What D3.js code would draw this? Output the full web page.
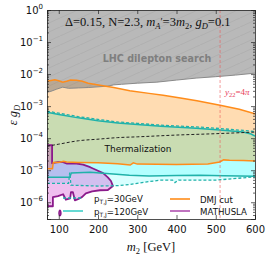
<!DOCTYPE html>
<html><head><meta charset="utf-8">
<script src="https://cdn.jsdelivr.net/npm/d3@7"></script>
<style>body{margin:0;background:#fff}svg{display:block}</style>
</head><body>
<svg id="c" width="266" height="259"></svg>
<script>
// ---------- data ----------
const xTicks = [100, 200, 300, 400, 500, 600];
const yTickExps = [0, -1, -2, -3, -4, -5, -6];
const lhcBound = [[70,2.7e-3],[80,2.9e-3],[95,3.4e-3],[110,3.9e-3],[125,3.6e-3],[150,3.7e-3],[175,3.8e-3],[200,4.0e-3],[225,4.2e-3],[240,4.6e-3],[260,4.8e-3],[300,5.2e-3],[350,5.6e-3],[400,6.5e-3],[450,7.5e-3],[500,8.3e-3],[550,9.3e-3],[600,1.07e-2]];
const dmjUpper = [[70,6.0e-3],[80,6.3e-3],[90,6.6e-3],[100,6.2e-3],[110,5.6e-3],[120,6.0e-3],[130,6.5e-3],[145,6.4e-3],[160,6.0e-3],[175,5.2e-3],[205,4.5e-3],[240,3.8e-3],[281,3.0e-3],[330,2.5e-3],[366,2.2e-3],[410,1.8e-3],[452,1.47e-3],[511,1.07e-3],[560,8.0e-4],[600,5.8e-4]];
const dmjLower = [[70,1.12e-5],[84,1.12e-5],[86,1.75e-5],[100,1.75e-5],[112,1.9e-5],[120,1.8e-5],[150,1.75e-5],[200,1.7e-5],[250,1.6e-5],[282,1.45e-5],[290,1.7e-5],[300,1.55e-5],[400,1.5e-5],[480,1.55e-5],[510,1.8e-5],[520,2.1e-5],[535,2.05e-5],[570,2.0e-5],[600,1.95e-5]];
const pt120Upper = [[70,6.5e-4],[100,5.5e-4],[150,4.3e-4],[200,3.5e-4],[250,2.95e-4],[300,2.65e-4],[360,2.35e-4],[450,2.05e-4],[510,1.8e-4],[570,1.55e-4],[590,1.35e-4],[600,1.15e-4]];
const pt120Lower = [[70,6.0e-6],[128,6.0e-6],[132,8.2e-6],[180,8.7e-6],[230,7.8e-6],[280,7.0e-6],[330,6.6e-6],[400,6.8e-6],[460,7.0e-6],[520,6.7e-6],[600,6.5e-6]];
const pt30Upper = [[70,7.0e-4],[100,6.0e-4],[150,4.7e-4],[200,3.85e-4],[250,3.2e-4],[300,2.9e-4],[360,2.55e-4],[450,2.25e-4],[510,2.0e-4],[570,1.75e-4],[600,1.6e-4]];
const pt30Lower = [[70,3.9e-6],[125,3.9e-6],[128,8.5e-6],[131,3.4e-6],[200,3.2e-6],[250,3.3e-6],[281,3.6e-6],[330,4.4e-6],[358,4.9e-6],[390,4.9e-6],[396,4.1e-6],[405,4.9e-6],[500,4.9e-6],[600,6.2e-6]];
const thermal = [[70,5.6e-5],[100,6.5e-5],[150,8.3e-5],[200,9.3e-5],[250,1.04e-4],[300,1.1e-4],[400,1.25e-4],[500,1.38e-4],[600,1.55e-4]];
const mathusla = [[70,6.0e-5],[83,6.0e-5],[83,1.65e-5],[98,1.78e-5],[111,1.78e-5],[121,1.6e-5],[141,1.65e-5],[162,1.5e-5],[180,1.24e-5],[197,1.0e-5],[213,8.1e-6],[225,6.0e-6],[233,4.6e-6],[238,3.2e-6],[225,2.4e-6],[205,2.37e-6],[185,2.2e-6],[169,1.9e-6],[159,1.44e-6],[149,1.25e-6],[141,1.15e-6],[136,2.05e-6],[131,2.05e-6],[129,1.33e-6],[118,1.2e-6],[111,1.78e-6],[98,1.55e-6],[85,1.44e-6],[85,7.5e-7],[70,7.5e-7]];
const mathuslaIsland = [[103,5.6e-7],[105,5.0e-7],[105,4.2e-7],[103,3.8e-7],[101,4.2e-7],[101,5.0e-7]];
const yukawaM = 511;
const legendItems = [
  {label:"30GeV", kind:"pt30"}, {label:"120GeV", kind:"pt120"},
  {label:"DMJ cut", kind:"dmj"}, {label:"MATHUSLA", kind:"math"}];

// ---------- layout ----------
const svg = d3.select("#c");
const L = 47, R = 255, T = 10, B = 219;
const x = d3.scaleLinear().domain([70, 600]).range([L, R]);
const y = d3.scaleLog().domain([3e-7, 1]).range([B, T]);

const defs = svg.append("defs");
defs.append("clipPath").attr("id","clip").append("rect")
  .attr("x",L).attr("y",T).attr("width",R-L).attr("height",B-T);
const pat = defs.append("pattern").attr("id","hatch").attr("patternUnits","userSpaceOnUse")
  .attr("width",20).attr("height",9);
pat.append("line").attr("x1",-1).attr("y1",9.45).attr("x2",21).attr("y2",-0.45)
  .attr("stroke","rgba(90,90,90,0.16)").attr("stroke-width",0.6);

const g = svg.append("g").attr("clip-path","url(#clip)");
const line = d3.line().x(d=>x(d[0])).y(d=>y(d[1]));
const band = (up, lo) => line(up) + "L" + line(lo.slice().reverse()).slice(1) + "Z";

// cyan regions
g.append("path").attr("d", band(pt30Upper, pt30Lower)).attr("fill","rgba(0,255,255,0.15)");
g.append("path").attr("d", band(pt120Upper, pt120Lower)).attr("fill","rgba(0,255,255,0.18)");
// DMJ region
g.append("path").attr("d", band(dmjUpper, dmjLower)).attr("fill","rgba(255,140,0,0.3)");
// LHC region
const lhcTop = lhcBound.map(d=>[d[0],1.5]);
g.append("path").attr("d", band(lhcTop, lhcBound)).attr("fill","rgba(120,120,120,0.52)");
g.append("path").attr("d", band(lhcTop, lhcBound)).attr("fill","url(#hatch)");
g.append("path").attr("d", line(lhcBound)).attr("fill","none").attr("stroke","#8a8a8a").attr("stroke-width",1);

// MATHUSLA
g.append("path").attr("d", line(mathusla)+"Z").attr("fill","rgba(191,0,191,0.25)")
  .attr("stroke","#8b1a8b").attr("stroke-width",1.8).attr("stroke-linejoin","round");
g.append("path").attr("d", d3.line().curve(d3.curveCardinalClosed).x(d=>x(d[0])).y(d=>y(d[1]))(mathuslaIsland))
  .attr("fill","rgba(191,0,191,0.25)").attr("stroke","#8b1a8b").attr("stroke-width",1.6);

// lines
const teal = "#20b2aa", orange = "#ff8c1a";
[[pt30Upper,"3,2"],[pt30Lower,"3,2"]].forEach(([d,da]) =>
  g.append("path").attr("d", line(d)).attr("fill","none").attr("stroke",teal).attr("stroke-width",1.3).attr("stroke-dasharray",da));
[pt120Upper, pt120Lower].forEach(d =>
  g.append("path").attr("d", line(d)).attr("fill","none").attr("stroke",teal).attr("stroke-width",1.5));
[dmjUpper, dmjLower].forEach(d =>
  g.append("path").attr("d", line(d)).attr("fill","none").attr("stroke",orange).attr("stroke-width",1.5));
g.append("path").attr("d", d3.line().curve(d3.curveMonotoneX).x(d=>x(d[0])).y(d=>y(d[1]))(thermal))
  .attr("fill","none").attr("stroke","#222").attr("stroke-width",1).attr("stroke-dasharray","3,2");

// yukawa line
g.append("line").attr("x1",x(yukawaM)).attr("x2",x(yukawaM)).attr("y1",T).attr("y2",B)
  .attr("stroke","rgba(235,90,90,0.6)").attr("stroke-width",1).attr("stroke-dasharray","3,2");

// ---------- texts in plot ----------
const serif = "'Liberation Serif','DejaVu Serif',serif";
const sans = "'DejaVu Sans',sans-serif";
const t = svg.append("text").attr("x",65).attr("y",26).attr("font-family",serif).attr("font-size",12.5).attr("fill","#111");
t.append("tspan").text("Δ=0.15, N=2.3, ");
t.append("tspan").attr("font-style","italic").text("m");
t.append("tspan").attr("font-style","italic").attr("font-size",8.5).attr("dy",3).text("A");
t.append("tspan").attr("font-size",10).attr("dy",-4).text("′");
t.append("tspan").attr("dy",1).text("=3");
t.append("tspan").attr("font-style","italic").text("m");
t.append("tspan").attr("font-size",8.5).attr("dy",3).text("2");
t.append("tspan").attr("dy",-3).text(", ");
t.append("tspan").attr("font-style","italic").text("g");
t.append("tspan").attr("font-style","italic").attr("font-size",8.5).attr("dy",3).text("D");
t.append("tspan").attr("dy",-3).text("=0.1");

svg.append("text").attr("x",157).attr("y",62).attr("text-anchor","middle")
  .attr("font-family",sans).attr("font-weight","bold").attr("font-size",9.6).attr("fill","#7f7f7f")
  .text("LHC dilepton search");
svg.append("text").attr("x",138).attr("y",152).attr("text-anchor","middle")
  .attr("font-family",sans).attr("font-size",9).attr("fill","#111").text("Thermalization");
const yk = svg.append("text").attr("x",225).attr("y",95).attr("font-family",serif).attr("font-size",9).attr("fill","#e8435a");
yk.append("tspan").attr("font-style","italic").text("y");
yk.append("tspan").attr("font-size",6.5).attr("dy",2).text("22");
yk.append("tspan").attr("dy",-2).text("=4");
yk.append("tspan").attr("font-style","italic").text("π");

// ---------- legend ----------
const lg = svg.append("g").attr("font-family",sans).attr("font-size",8.6).attr("fill","#111");
const legPos = [[63,198,94],[63,211,94],[170,199,200],[170,211,200]];
legendItems.forEach((it,i) => {
  const [lx, ly, tx] = legPos[i];
  const ln = lg.append("line").attr("x1",lx).attr("x2",lx+20).attr("y1",ly).attr("y2",ly).attr("stroke-width",1.6);
  if (it.kind==="pt30") ln.attr("stroke",teal).attr("stroke-dasharray","3,2");
  if (it.kind==="pt120") ln.attr("stroke","#40d0c8");
  if (it.kind==="dmj") ln.attr("stroke",orange);
  if (it.kind==="math") ln.attr("stroke","#b050b0");
  const tt = lg.append("text").attr("x",tx).attr("y",ly+3.5);
  if (it.kind==="pt30" || it.kind==="pt120") {
    tt.append("tspan").text("p");
    tt.append("tspan").attr("font-size",6).attr("dy",2).text("T,J");
    tt.append("tspan").attr("dy",-2).text("="+it.label);
  } else tt.text(it.label);
});

// ---------- axes ----------
const ax = svg.append("g").attr("font-family",sans);
const xb = ax.append("g").attr("transform",`translate(0,${B})`)
  .call(d3.axisBottom(x).tickValues(xTicks).tickSize(-4).tickPadding(7).tickFormat(d3.format("d")));
const xt = ax.append("g").attr("transform",`translate(0,${T})`)
  .call(d3.axisTop(x).tickValues(xTicks).tickSize(-4).tickFormat(""));
const minors = [];
for (let e=-7;e<=0;e++) for (let k=2;k<=9;k++){const v=k*Math.pow(10,e); if(v>=3e-7&&v<=1) minors.push(v);}
const majors = yTickExps.map(e=>Math.pow(10,e));
const yl = ax.append("g").attr("transform",`translate(${L},0)`)
  .call(d3.axisLeft(y).tickValues(majors).tickSize(-4).tickFormat(""));
const yr = ax.append("g").attr("transform",`translate(${R},0)`)
  .call(d3.axisRight(y).tickValues(majors).tickSize(-4).tickFormat(""));
ax.append("g").attr("transform",`translate(${L},0)`)
  .call(d3.axisLeft(y).tickValues(minors).tickSize(-2).tickFormat("")).select(".domain").remove();
ax.append("g").attr("transform",`translate(${R},0)`)
  .call(d3.axisRight(y).tickValues(minors).tickSize(-2).tickFormat("")).select(".domain").remove();
ax.selectAll(".domain").attr("stroke","#222").attr("stroke-width",0.8);
ax.selectAll(".tick line").attr("stroke","#222").attr("stroke-width",0.7);
xb.selectAll("text").attr("font-size",10).attr("fill","#111").attr("font-family",sans);

yTickExps.forEach(e => {
  const tx = ax.append("text").attr("x",43).attr("y",y(Math.pow(10,e))+4).attr("text-anchor","end")
    .attr("font-size",10).attr("fill","#111");
  tx.append("tspan").text("10");
  tx.append("tspan").attr("font-size",7).attr("dy",-5).text(e===0?"0":"−"+(-e));
});

// axis labels
const xl = svg.append("text").attr("x",151).attr("y",251).attr("text-anchor","middle")
  .attr("font-family",serif).attr("font-size",12.5).attr("fill","#111");
xl.append("tspan").attr("font-style","italic").text("m");
xl.append("tspan").attr("font-size",8.5).attr("dy",3).text("2");
xl.append("tspan").attr("dy",-3).text(" [GeV]");
const ylab = svg.append("text").attr("transform","translate(17,115) rotate(-90)").attr("text-anchor","middle")
  .attr("font-family",serif).attr("font-size",12.5).attr("fill","#111");
ylab.append("tspan").attr("font-style","italic").text("ε g");
ylab.append("tspan").attr("font-style","italic").attr("font-size",8.5).attr("dy",3).text("D");
</script>
</body></html>
